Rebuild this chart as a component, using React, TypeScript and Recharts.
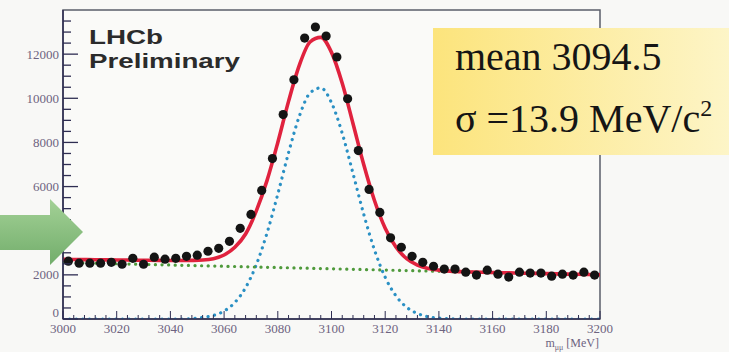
import React from 'react';
import { ComposedChart, Line, Scatter, XAxis, YAxis, ReferenceArea } from 'recharts';

// dimuon mass bins (MeV) and candidates per 4 MeV bin
const binCenters = [
  3002, 3006, 3010, 3014, 3018, 3022, 3026, 3030, 3034, 3038,
  3042, 3046, 3050, 3054, 3058, 3062, 3066, 3070, 3074, 3078,
  3082, 3086, 3090, 3094, 3098, 3102, 3106, 3110, 3114, 3118,
  3122, 3126, 3130, 3134, 3138, 3142, 3146, 3150, 3154, 3158,
  3162, 3166, 3170, 3174, 3178, 3182, 3186, 3190, 3194, 3198,
];
const eventCounts = [
  2620, 2530, 2530, 2530, 2570, 2480, 2750, 2480, 2800, 2710,
  2750, 2840, 2890, 3070, 3200, 3520, 4110, 4740, 5825, 7270,
  9260, 10840, 12730, 13230, 12820, 11870, 9980, 7630, 5870, 4830,
  3680, 3250, 2840, 2570, 2390, 2260, 2260, 2120, 1990, 2210,
  2030, 1900, 2120, 2080, 2080, 1940, 2030, 1990, 2120, 1990,
];

// fit curves
const fitMass = [
  3000, 3004, 3008, 3012, 3016, 3020, 3024, 3028, 3032, 3036,
  3040, 3044, 3048, 3052, 3056, 3060, 3064, 3068, 3072, 3076,
  3080, 3084, 3088, 3092, 3096, 3100, 3104, 3108, 3112, 3116,
  3120, 3124, 3128, 3132, 3136, 3140, 3144, 3148, 3152, 3156,
  3160, 3164, 3168, 3172, 3176, 3180, 3184, 3188, 3192, 3196, 3200,
];
const signalFit = [
  0, 0, 0, 0, 0, 0, 0, 0, 0, 0,
  0, 0, 20, 70, 160, 360, 750, 1420, 2460, 3900,
  5660, 7530, 9180, 10240, 10470, 9800, 8410, 6600, 4750, 3130,
  1890, 1050, 530, 250, 100, 40, 15, 0, 0, 0,
  0, 0, 0, 0, 0, 0, 0, 0, 0, 0, 0,
];
const totalFit = [
  2700, 2695, 2690, 2685, 2680, 2675, 2670, 2665, 2660, 2655,
  2650, 2650, 2655, 2670, 2730, 2900, 3250, 3850, 4900, 6280,
  8000, 9860, 11490, 12550, 12760, 12080, 10680, 8860, 7000, 5370,
  4115, 3260, 2730, 2440, 2290, 2215, 2170, 2145, 2130, 2115,
  2105, 2095, 2085, 2075, 2065, 2055, 2045, 2035, 2025, 2015, 2005,
];
const backgroundMass = [3000, 3200];
const backgroundFit = [2560, 1990];

const xTickLabels = [3000, 3020, 3040, 3060, 3080, 3100, 3120, 3140, 3160, 3180, 3200];
const yTickLabels = [0, 2000, 4000, 6000, 8000, 10000, 12000];

const points = binCenters.map((m, i) => ({ m, n: eventCounts[i] }));
const signal = fitMass.map((m, i) => ({ m, v: signalFit[i] }));
const total = fitMass.map((m, i) => ({ m, v: totalFit[i] }));
const background = backgroundMass.map((m, i) => ({ m, v: backgroundFit[i] }));

// minor ticks every 4 MeV / 500 entries
const xTicks: number[] = [];
for (let m = 3000; m <= 3200; m += 4) xTicks.push(m);
const yTicks: number[] = [];
for (let v = 0; v <= 13500; v += 500) yTicks.push(v);

const SERIF = '"Liberation Serif", "DejaVu Serif", serif';
const SANS = '"Liberation Sans", Arial, sans-serif';
const LABEL = '#6d6380';
const AXIS = '#2e2d52';

function XTick({ x, y, payload }: any) {
  const major = xTickLabels.includes(payload.value);
  return (
    <g>
      <line x1={x} y1={y} x2={x} y2={y - (major ? 8 : 4)} stroke={AXIS} strokeWidth={1} />
      {major && (
        <text x={x} y={y + 14} textAnchor="middle" fontSize={13} fill={LABEL} fontFamily={SERIF}>
          {payload.value}
        </text>
      )}
    </g>
  );
}

function YTick({ x, y, payload }: any) {
  const major = yTickLabels.includes(payload.value);
  // the zero label sits a little higher so it clears "3000"
  const dy = payload.value === 0 ? -2 : 4.5;
  return (
    <g>
      <line x1={x} y1={y} x2={x + (major ? 15 : 8)} y2={y} stroke={AXIS} strokeWidth={1.3} />
      {major && (
        <text x={x - 4} y={y + dy} textAnchor="end" fontSize={13} fill={LABEL} fontFamily={SERIF}>
          {payload.value}
        </text>
      )}
    </g>
  );
}

export default function App() {
  return (
    <div style={{ position: 'absolute', left: 0, top: 0, width: 729, height: 352, background: '#f8f8f6', overflow: 'hidden' }}>
      <ComposedChart width={729} height={352} margin={{ top: 10, right: 129, bottom: 0, left: 13 }}>
        <ReferenceArea x1={3000} x2={3200} y1={0} y2={14000} fill="#fbfbfa" stroke="#5a5e6a" strokeWidth={1.5} />
        <XAxis
          dataKey="m"
          type="number"
          domain={[3000, 3200]}
          ticks={xTicks}
          interval={0}
          height={33}
          tickSize={0}
          tickMargin={0}
          tickLine={false}
          tick={<XTick />}
          axisLine={{ stroke: AXIS, strokeWidth: 1.5 }}
          allowDataOverflow
        />
        <YAxis
          type="number"
          domain={[0, 14000]}
          ticks={yTicks}
          interval={0}
          width={50}
          tickSize={0}
          tickMargin={0}
          tickLine={false}
          tick={<YTick />}
          axisLine={{ stroke: AXIS, strokeWidth: 1.5 }}
          allowDataOverflow
        />
        <Line
          data={signal}
          dataKey="v"
          type="monotone"
          stroke="#2a90c4"
          strokeWidth={3.2}
          strokeDasharray="0.1 6.5"
          strokeLinecap="round"
          dot={false}
          isAnimationActive={false}
        />
        <Line
          data={background}
          dataKey="v"
          type="linear"
          stroke="#4f9a3c"
          strokeWidth={3.2}
          strokeDasharray="0.1 6.5"
          strokeLinecap="round"
          dot={false}
          isAnimationActive={false}
        />
        <Scatter
          data={points}
          dataKey="n"
          isAnimationActive={false}
          shape={(p: any) => <circle cx={p.cx} cy={p.cy} r={4.6} fill="#141414" />}
        />
        <Line
          data={total}
          dataKey="v"
          type="monotone"
          stroke="#e0223e"
          strokeWidth={3.6}
          dot={false}
          isAnimationActive={false}
        />
      </ComposedChart>

      <svg width={729} height={352} style={{ position: 'absolute', left: 0, top: 0, pointerEvents: 'none' }}>
        <defs>
          <linearGradient id="arrowFill" x1="0" y1="0" x2="0" y2="1">
            <stop offset="0" stopColor="#a3d196" />
            <stop offset="1" stopColor="#72ad6b" />
          </linearGradient>
          <linearGradient id="boxFill" x1="0" y1="0" x2="1" y2="0">
            <stop offset="0" stopColor="#fce47c" />
            <stop offset="1" stopColor="#fdf5c8" />
          </linearGradient>
        </defs>

        <text x={89} y={44} fontSize={21} fontWeight="bold" fill="#2b2b2b" fontFamily={SANS} textLength={74} lengthAdjust="spacingAndGlyphs">
          LHCb
        </text>
        <text x={89} y={68} fontSize={21} fontWeight="bold" fill="#2b2b2b" fontFamily={SANS} textLength={151} lengthAdjust="spacingAndGlyphs">
          Preliminary
        </text>

        <rect x={433} y={28} width={300} height={127} fill="url(#boxFill)" />
        <text x={455} y={70} fontSize={40} fill="#151515" fontFamily={SERIF}>
          mean 3094.5
        </text>
        <text x={455} y={132} fontSize={40} fill="#151515" fontFamily={SERIF}>
          σ =13.9 MeV/c<tspan fontSize={24} dy={-16}>2</tspan>
        </text>

        <polygon points="0,215 50,215 50,199 83,232 50,265 50,250 0,250" fill="url(#arrowFill)" />

        <text x={599} y={347} textAnchor="end" fontSize={12} fill={LABEL} fontFamily={SERIF}>
          m<tspan fontSize={8} dy={3}>μμ</tspan>
          <tspan dy={-3}> [MeV]</tspan>
        </text>
      </svg>
    </div>
  );
}
